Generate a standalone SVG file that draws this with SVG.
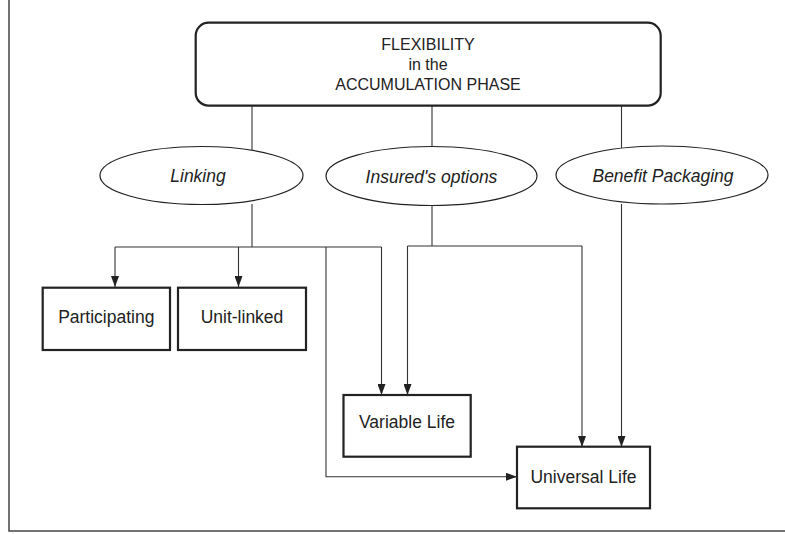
<svg xmlns="http://www.w3.org/2000/svg" width="785" height="534" viewBox="0 0 785 534">
<style>
.frame{fill:none;stroke:#444;stroke-width:1.5}
.box{fill:#fff;stroke:#222;stroke-width:2.2}
.ell{fill:#fff;stroke:#222;stroke-width:1.2}
.con{fill:none;stroke:#333;stroke-width:1.1}
.t{font-family:"Liberation Sans",Arial,sans-serif;font-size:17.5px;fill:#222;text-anchor:middle}
.ti{font-style:italic}
.th{font-size:16px}
</style>
<defs>
<marker id="arr" markerUnits="userSpaceOnUse" markerWidth="11" markerHeight="8" refX="11" refY="4" orient="auto">
<path d="M0,0 L11,4 L0,8 z" fill="#222"/>
</marker>
</defs>
<path class="frame" d="M9,0 V531 H785"/>
<g id="connectors">
<path class="con" d="M252,106 V150"/>
<path class="con" d="M432,106 V147"/>
<path class="con" d="M621.5,106 V148"/>
<path class="con" d="M252,204 V247"/>
<path class="con" d="M115,247 H381.5"/>
<path class="con" d="M115,247 V287" marker-end="url(#arr)"/>
<path class="con" d="M238.5,247 V287" marker-end="url(#arr)"/>
<path class="con" d="M381.5,247 V395" marker-end="url(#arr)"/>
<path class="con" d="M326,247 V476.7 H517" marker-end="url(#arr)"/>
<path class="con" d="M432,205.5 V246"/>
<path class="con" d="M407.5,246 H582"/>
<path class="con" d="M407.5,246 V395" marker-end="url(#arr)"/>
<path class="con" d="M582,246 V447" marker-end="url(#arr)"/>
<path class="con" d="M621.5,204 V447" marker-end="url(#arr)"/>
</g>
<g id="top">
<rect class="box" x="195.7" y="22.7" width="465" height="83" rx="13"/>
<text class="t th" x="428" y="50">FLEXIBILITY</text>
<text class="t th" x="428" y="69.5">in the</text>
<text class="t th" x="428" y="90">ACCUMULATION PHASE</text>
</g>
<g id="linking">
<ellipse class="ell" cx="201.5" cy="175.5" rx="101.5" ry="29"/>
<text class="t ti" x="198" y="182">Linking</text>
</g>
<g id="insured">
<ellipse class="ell" cx="431.5" cy="176" rx="105.5" ry="29.5"/>
<text class="t ti" x="431.5" y="182.5">Insured's options</text>
</g>
<g id="benefit">
<ellipse class="ell" cx="662" cy="175" rx="106" ry="29"/>
<text class="t ti" x="663" y="181.5">Benefit Packaging</text>
</g>
<g id="participating">
<rect class="box" x="42.7" y="287.7" width="127.3" height="62.3"/>
<text class="t" x="106.3" y="322.5">Participating</text>
</g>
<g id="unitlinked">
<rect class="box" x="178" y="287.7" width="128" height="62.3"/>
<text class="t" x="242" y="322.5">Unit-linked</text>
</g>
<g id="variable">
<rect class="box" x="343.5" y="395" width="127.2" height="61.7"/>
<text class="t" x="407" y="427.5">Variable Life</text>
</g>
<g id="universal">
<rect class="box" x="517" y="446.7" width="133" height="61.6"/>
<text class="t" x="583.5" y="483">Universal Life</text>
</g>
</svg>
